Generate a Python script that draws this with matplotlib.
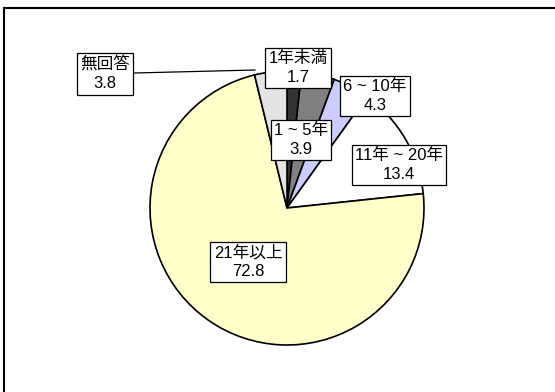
import matplotlib.pyplot as plt
from matplotlib.lines import Line2D

plt.rcParams['font.family'] = ['Liberation Sans', 'Noto Sans CJK JP']

labels = ['1年未満', '1 ~ 5年', '6 ~ 10年', '11年 ~ 20年', '21年以上', '無回答']
values = [1.7, 3.9, 4.3, 13.4, 72.8, 3.8]
colors = ['#333333', '#808080', '#ccccff', '#ffffff', '#ffffcc', '#e4e4e4']

W, H = 555, 392
fig = plt.figure(figsize=(W / 100, H / 100), dpi=100)
ax = fig.add_axes([0, 0, 1, 1])


def px(x, y):
    # pixel coords (top-left origin) -> data coords
    return x, H - y


cx, cy = px(287, 208)
ax.pie(values, colors=colors, startangle=90, counterclock=False,
       center=(cx, cy), radius=137,
       wedgeprops=dict(edgecolor='black', linewidth=1.2))
ax.set_xlim(0, W)
ax.set_ylim(0, H)
ax.set_aspect('equal')
ax.axis('off')

# label box centres, pixel coords
label_pos = [(298, 68), (301, 140), (375, 96), (399, 165), (248, 262), (105, 74)]
box = dict(boxstyle='square,pad=0.2', facecolor='white', edgecolor='black', linewidth=0.9)

# leader line for 無回答
ax.plot(*zip(px(134, 73), px(255, 70)), color='black', lw=0.9)

for lab, val, (x, y) in zip(labels, values, label_pos):
    ax.text(*px(x, y), f'{lab}\n{val}', ha='center', va='center',
            fontsize=12, linespacing=1.3, bbox=box, zorder=5)

# partial chart frame (top and left edges)
fig.add_artist(Line2D([4 / W, 1], [1 - 8 / H, 1 - 8 / H], color='black', lw=1.5))
fig.add_artist(Line2D([4 / W, 4 / W], [0, 1 - 8 / H], color='black', lw=1.5))

fig.savefig('out.png', dpi=100)
